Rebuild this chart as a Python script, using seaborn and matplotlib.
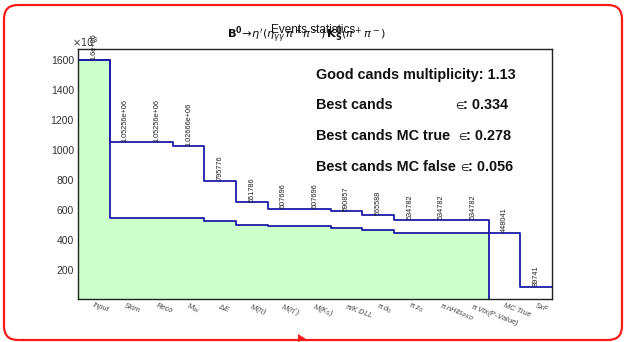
import numpy as np
import pandas as pd
import matplotlib
matplotlib.use("Agg")
import matplotlib.pyplot as plt
import seaborn as sns
from matplotlib.patches import FancyBboxPatch, Polygon

# Selection steps (x categories)
steps = ["Input", "Skim", "Reco", r"M$_{bc}$", r"$\Delta$E", r"M($\eta$)", r"M($\eta'$)",
         r"M(K$_S$)", r"$\pi$/K DLL", r"$\pi$ d$_0$", r"$\pi$ z$_0$", r"$\pi$ nHits$_{PXD}$",
         r"$\pi$ Vtx(P-Value)", "MC True", "SxF"]

# Candidates surviving each step (thousands)
all_cands = [1600.0, 1052.56, 1052.56, 1026.66, 795.776, 651.786, 607.696, 607.696,
             590.857, 565.588, 534.782, 534.782, 534.782, 448.041, 89.741]
# Bin content labels as printed above each step
count_labels = ["1.6e+06", "1.05256e+06", "1.05256e+06", "1.02666e+06", "795776", "651786",
                "607696", "607696", "590857", "565588", "534782", "534782", "534782",
                "448041", "89741"]
# Best candidates per step (thousands)
best_cands = [1600.0, 547.0, 547.0, 547.0, 527.0, 502.0, 494.0, 494.0,
              482.0, 469.0, 445.0, 445.0, 445.0, 0.0, 0.0]

stat_lines = ["Good cands multiplicity: 1.13",
              "Best cands", "Best cands MC true", "Best cands MC false"]
stat_values = ["", ": 0.334", ": 0.278", ": 0.056"]

sns.set_theme(style="white")
plt.rcParams["font.family"] = ["Liberation Sans", "DejaVu Sans"]

n = len(steps)
centers = np.arange(n) + 0.5
df = pd.DataFrame({"step": centers, "all": all_cands, "best": best_cands})

fig = plt.figure(figsize=(6.24, 3.42), dpi=100)
ax = fig.add_axes([78 / 624, 1 - 299.3 / 342, (552 - 78) / 624, (299.3 - 49) / 342])

line_col = "#1c1ca8"
sns.histplot(data=df, x="step", weights="best", bins=n, binrange=(0, n), element="step",
             fill=True, color="#ccffcc", alpha=1.0, edgecolor=line_col, linewidth=1.3, ax=ax)
sns.histplot(data=df, x="step", weights="all", bins=n, binrange=(0, n), element="step",
             fill=False, color=line_col, linewidth=1.3, ax=ax)

ax.set_xlim(0, n)
ax.set_ylim(5, 1673)
ax.set_xlabel("")
ax.set_ylabel("")

ax.set_yticks([200, 400, 600, 800, 1000, 1200, 1400, 1600])
ax.set_yticks(np.arange(100, 1700, 100), minor=True)
ax.tick_params(axis="y", which="major", direction="in", length=5, width=0.8,
               labelsize=7.5, labelcolor="#333333", pad=3, left=True)
ax.tick_params(axis="y", which="minor", direction="in", length=2.5, width=0.6, left=True)
ax.set_xticks(centers)
ax.set_xticklabels([])
ax.tick_params(axis="x", length=0)
for s in ax.spines.values():
    s.set_color("#222222")
    s.set_linewidth(1.0)

# Rotated step names
for xc, lab in zip(centers, steps):
    ax.text(xc, -12, lab, rotation=-20, rotation_mode="anchor", ha="left", va="top",
            fontsize=5.4, color="#444444", style="italic")

# Counts printed above every step
for xc, v, lab in zip(centers, all_cands, count_labels):
    ax.text(xc, v + 3, lab, rotation=90, ha="center", va="bottom", fontsize=5.3,
            color="#222222")

ax.text(-0.013, 1.0, r"$\times10^{3}$", transform=ax.transAxes, ha="left", va="bottom",
        fontsize=7, color="#333333")

# Overlapping titles
fig.text(313 / 624, 1 - 30 / 342, "Events statistics", ha="center", va="center",
         fontsize=8.5, color="#111111")
fig.text(307 / 624, 1 - 34 / 342,
         r"$\mathbf{B^0}\!\rightarrow\!\eta'(\eta_{\gamma\gamma}\,\pi^+\pi^-)\,\mathbf{K_S^0}(\pi^+\pi^-)$",
         ha="center", va="center", fontsize=8.2, color="#111111")

# Statistics box
ys = [75, 105, 136, 167]
elem_x = [None, 455, 458, 460]
for y, a, b, ex in zip(ys, stat_lines, stat_values, elem_x):
    fig.text(316 / 624, 1 - y / 342, a, ha="left", va="center", fontsize=10.4,
             fontweight="bold", color="#111111")
    if b:
        fig.text(ex / 624, 1 - (y + 1) / 342, "\u2208", ha="left", va="center",
                 fontsize=7.0, color="#111111", family=["DejaVu Sans"])
        fig.text((ex + 8) / 624, 1 - y / 342, b, ha="left", va="center", fontsize=10.4,
                 fontweight="bold", color="#111111")

# Outer rounded frame (pixel-like inch coordinates)
frame = FancyBboxPatch((0.04, 0.02), 6.18, 3.35,
                       boxstyle="round,pad=0,rounding_size=0.14",
                       transform=fig.dpi_scale_trans,
                       facecolor="none", edgecolor="#ff1a1a", linewidth=1.6)
fig.patches.append(frame)
marker = Polygon([[2.98, 0.08], [3.06, 0.03], [2.98, 0.0]],
                 closed=True, transform=fig.dpi_scale_trans, facecolor="#ff1a1a", edgecolor="none")
fig.patches.append(marker)

fig.savefig("out.png", dpi=100)
